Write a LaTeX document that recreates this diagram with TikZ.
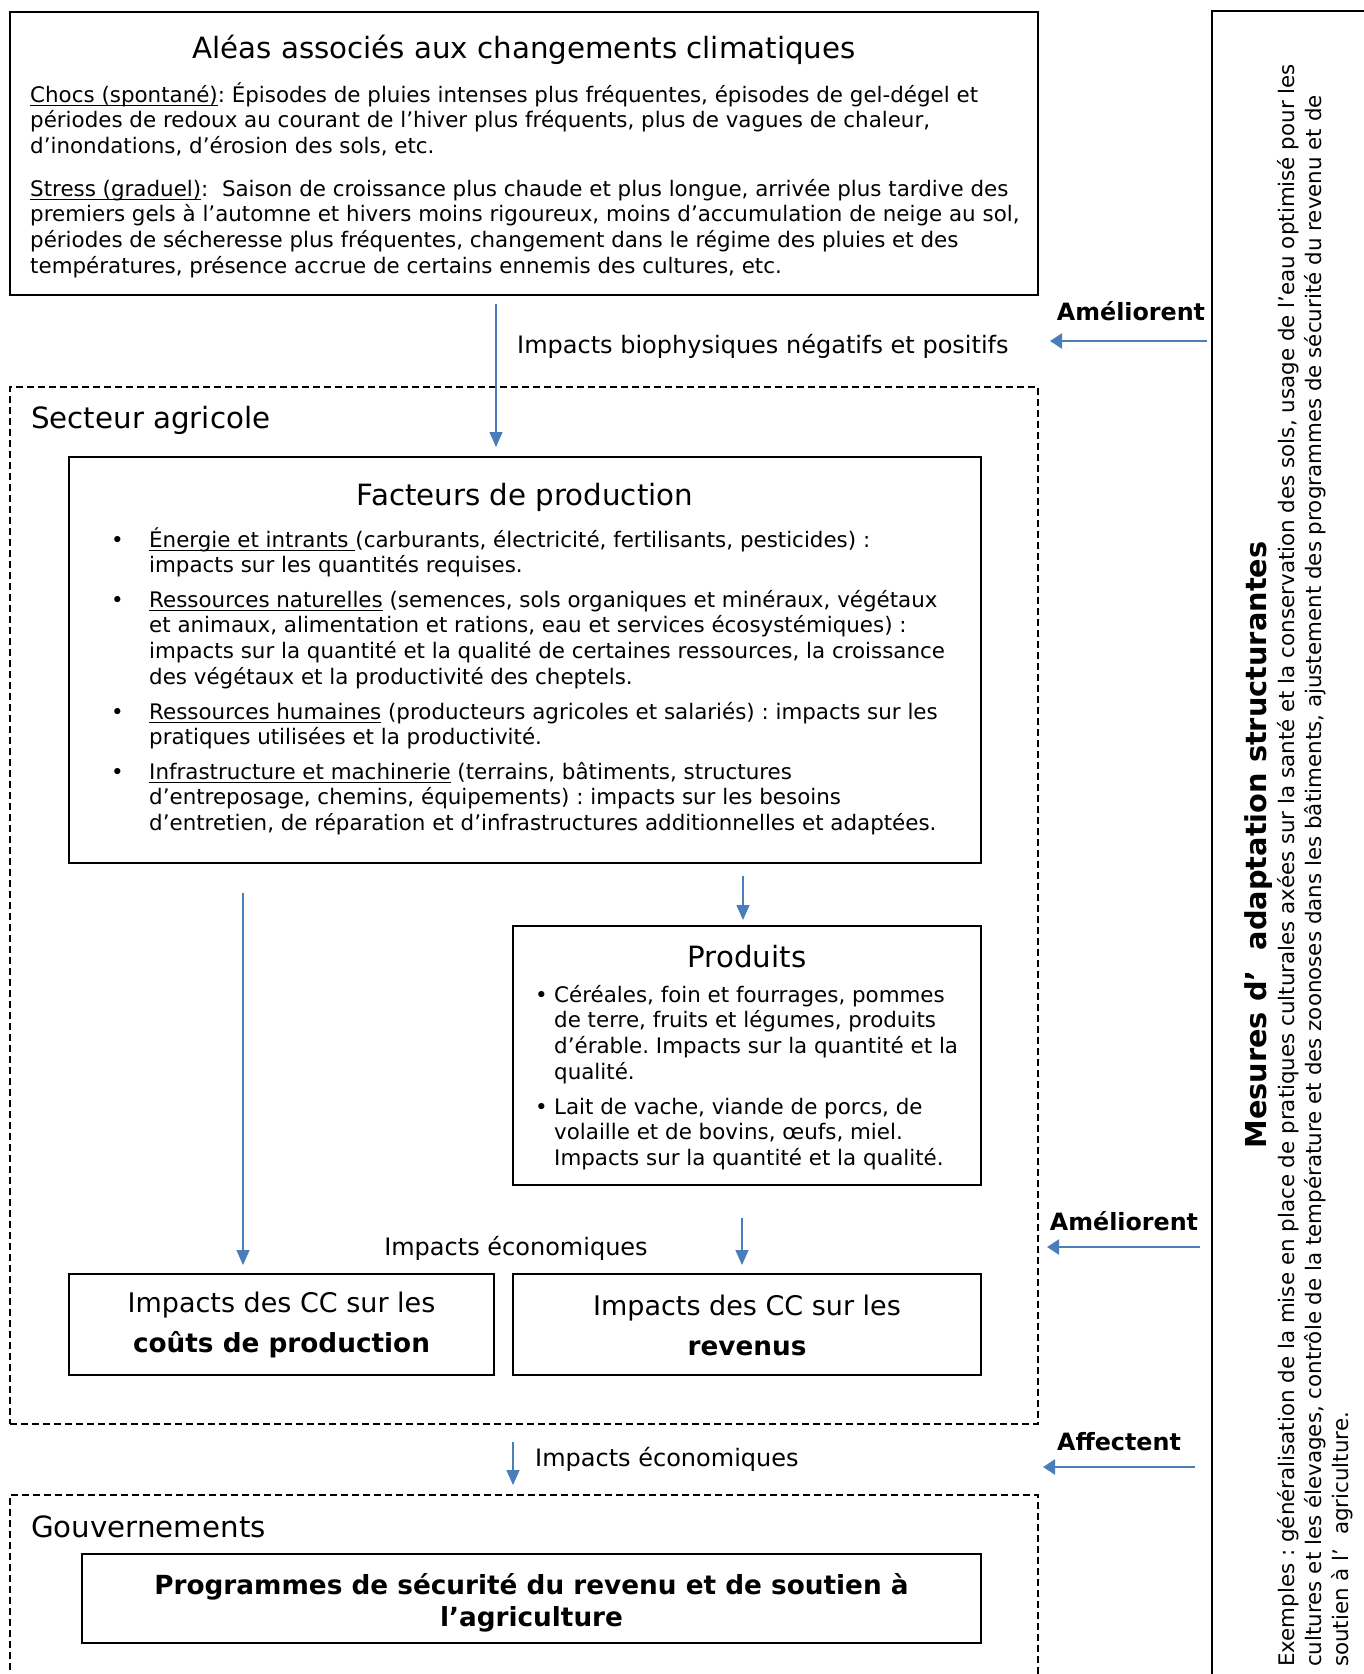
\documentclass[tikz,border=0pt]{standalone}
\usepackage{fontspec}
\setmainfont{DejaVu Sans}
\usetikzlibrary{arrows.meta}
\frenchspacing
\definecolor{arrblue}{HTML}{4A7EBB}
\newcommand{\bodyfont}{\fontsize{21.4}{25.8}\selectfont}
\newcommand{\titlefont}{\fontsize{29.3}{34}\selectfont}
\newcommand{\ccfont}{\fontsize{27}{32}\selectfont}
\newcommand{\ccbold}{\fontsize{26.3}{32}\selectfont\bfseries}
\newcommand{\lblfont}{\fontsize{24}{28}\selectfont}
\newcommand{\LP}[1]{\parbox[t]{2000pt}{\raggedright #1}}
\newcommand{\CP}[2]{\parbox[t]{#1}{\centering #2}}
\newcommand{\myul}[1]{\leavevmode\setbox0\hbox{#1}\rlap{\rule[-4pt]{\wd0}{1.2pt}}\box0\relax}
\tikzset{
  box/.style={draw=black, line width=1.6pt, inner sep=0pt, outer sep=0pt, anchor=north west},
  dbox/.style={draw=black, line width=1.4pt, dash pattern=on 7pt off 4pt, inner sep=0pt, outer sep=0pt, anchor=north west},
  arr/.style={draw=arrblue, line width=1.3pt, -{Triangle[length=15pt,width=13pt]}},
  sarr/.style={draw=arrblue, line width=2.4pt, -{Triangle[length=12pt,width=15pt]}},
  txt/.style={inner sep=0pt, anchor=base west},
  ctxt/.style={inner sep=0pt, anchor=base},
}
\begin{document}
\begin{tikzpicture}[x=1pt,y=-1pt]
\useasboundingbox (0,0) rectangle (1364,1674);
\fill[white] (0,0) rectangle (1364,1674);

% ---------- boxes ----------
\node[box, minimum width=1028pt, minimum height=283pt] (aleas) at (10,12) {};
\node[dbox, minimum width=1028pt, minimum height=1037pt] (secteur) at (10,387) {};
\node[box, minimum width=912pt, minimum height=406pt] (facteurs) at (69,457) {};
\node[box, minimum width=468pt, minimum height=259pt] (produits) at (513,926) {};
\node[box, minimum width=425pt, minimum height=101pt] (couts) at (69,1274) {};
\node[box, minimum width=468pt, minimum height=101pt] (revenus) at (513,1274) {};
\node[dbox, minimum width=1028pt, minimum height=240pt] (gouv) at (10,1495) {};
\node[box, minimum width=899pt, minimum height=89pt] (programmes) at (82,1554) {};
\node[box, minimum width=220pt, minimum height=1720pt] (side) at (1212,11) {};

% ---------- top box text ----------
\node[ctxt] (aleasT) at (524,58) {\titlefont Aléas associés aux changements climatiques};
\node[txt] (chocs) at (30,102) {\bodyfont\LP{\myul{Chocs (spontané)}: Épisodes de pluies intenses plus fréquentes, épisodes de gel-dégel et\\
périodes de redoux au courant de l’hiver plus fréquents, plus de vagues de chaleur,\\
d’inondations, d’érosion des sols, etc.}};
\node[txt] (stress) at (30,196) {\bodyfont\LP{\myul{Stress (graduel)}:\ \ Saison de croissance plus chaude et plus longue, arrivée plus tardive des\\
premiers gels à l’automne et hivers moins rigoureux, moins d’accumulation de neige au sol,\\
périodes de sécheresse plus fréquentes, changement dans le régime des pluies et des\\
températures, présence accrue de certains ennemis des cultures, etc.}};

% ---------- secteur agricole ----------
\node[txt] (secteurT) at (31,428) {\titlefont Secteur agricole};
\node[ctxt] (facteursT) at (525,505) {\titlefont Facteurs de production};
\node[txt] (f1) at (111,547) {\bodyfont\makebox[38pt][l]{•}\LP{\myul{Énergie et intrants }(carburants, électricité, fertilisants, pesticides) :\\
impacts sur les quantités requises.}};
\node[txt] (f2) at (111,607) {\bodyfont\makebox[38pt][l]{•}\LP{\myul{Ressources naturelles} (semences, sols organiques et minéraux, végétaux\\
et animaux, alimentation et rations, eau et services écosystémiques) :\\
impacts sur la quantité et la qualité de certaines ressources, la croissance\\
des végétaux et la productivité des cheptels.}};
\node[txt] (f3) at (111,719) {\bodyfont\makebox[38pt][l]{•}\LP{\myul{Ressources humaines} (producteurs agricoles et salariés) : impacts sur les\\
pratiques utilisées et la productivité.}};
\node[txt] (f4) at (111,779) {\bodyfont\makebox[38pt][l]{•}\LP{\myul{Infrastructure et machinerie} (terrains, bâtiments, structures\\
d’entreposage, chemins, équipements) : impacts sur les besoins\\
d’entretien, de réparation et d’infrastructures additionnelles et adaptées.}};

\node[ctxt] (produitsT) at (747,967) {\titlefont Produits};
\node[txt] (p1) at (535,1002) {\bodyfont\makebox[19pt][l]{•}\LP{Céréales, foin et fourrages, pommes\\
de terre, fruits et légumes, produits\\
d’érable. Impacts sur la quantité et la\\
qualité.}};
\node[txt] (p2) at (535,1114) {\bodyfont\makebox[19pt][l]{•}\LP{Lait de vache, viande de porcs, de\\
volaille et de bovins, œufs, miel.\\
Impacts sur la quantité et la qualité.}};

\node[ctxt] (ecoT) at (516,1255) {\lblfont Impacts économiques};
\node[ctxt] (coutsT) at (281.5,1312) {\ccfont\CP{420pt}{Impacts des CC sur les\\[8pt]\ccbold coûts de production}};
\node[ctxt] (revenusT) at (747,1315) {\ccfont\CP{460pt}{Impacts des CC sur les\\[8pt]\ccbold revenus}};

% ---------- gouvernements ----------
\node[txt] (gouvT) at (31,1537) {\titlefont Gouvernements};
\node[ctxt] (programmesT) at (531.5,1594) {\ccbold\CP{900pt}{Programmes de sécurité du revenu et de soutien à\\[0pt] l’agriculture}};

% ---------- labels between ----------
\node[txt] (bioT) at (517,353) {\lblfont Impacts biophysiques négatifs et positifs};
\node[txt] (eco2T) at (535,1466) {\lblfont Impacts économiques};

% ---------- side box ----------
\node[ctxt, rotate=90] (mesuresT) at (1266,845) {\fontsize{28.8}{34}\selectfont\bfseries Mesures d’\ \ adaptation structurantes};
\node[txt, rotate=90] (exemples) at (1294,1667) {\fontsize{21.4}{27}\selectfont\LP{Exemples : généralisation de la mise en place de pratiques culturales axées sur la santé et la conservation des sols, usage de l'eau optimisé pour les\\
cultures et les élevages, contrôle de la température et des zoonoses dans les bâtiments, ajustement des programmes de sécurité du revenu et de\\
soutien à l’\ \ agriculture.}};

\node[ctxt] (am1) at (1131,320) {\fontsize{23.8}{28}\selectfont\bfseries Améliorent};
\node[ctxt] (am2) at (1124,1230) {\fontsize{23.8}{28}\selectfont\bfseries Améliorent};
\node[ctxt] (aff) at (1119,1450) {\fontsize{23.8}{28}\selectfont\bfseries Affectent};

% ---------- connectors ----------
\draw[arr] ([xshift=-28pt,yshift=-9pt]aleas.south) -- ([xshift=-29pt,yshift=10pt]facteurs.north);
\draw[arr] ([xshift=218pt,yshift=-13pt]facteurs.south) -- ([xshift=-4pt,yshift=6pt]produits.north);
\draw[arr] ([xshift=-282pt,yshift=-30pt]facteurs.south) -- ([xshift=-38.5pt,yshift=9pt]couts.north);
\draw[arr] ([xshift=-5pt,yshift=-33pt]produits.south) -- ([xshift=-5pt,yshift=9pt]revenus.north);
\draw[arr] ([xshift=-11pt,yshift=-18pt]secteur.south) -- ([xshift=-11pt,yshift=10pt]gouv.north);

\draw[sarr] ([xshift=-5pt,yshift=-330pt]side.north west) -- ([xshift=12pt,yshift=-46pt]aleas.south east);
\draw[sarr] ([xshift=-12pt,yshift=-1236pt]side.north west) -- ([xshift=9pt,yshift=-860pt]secteur.north east);
\draw[sarr] ([xshift=-17pt,yshift=-1456pt]side.north west) -- ([xshift=5pt,yshift=28pt]gouv.north east);
\end{tikzpicture}
\end{document}
